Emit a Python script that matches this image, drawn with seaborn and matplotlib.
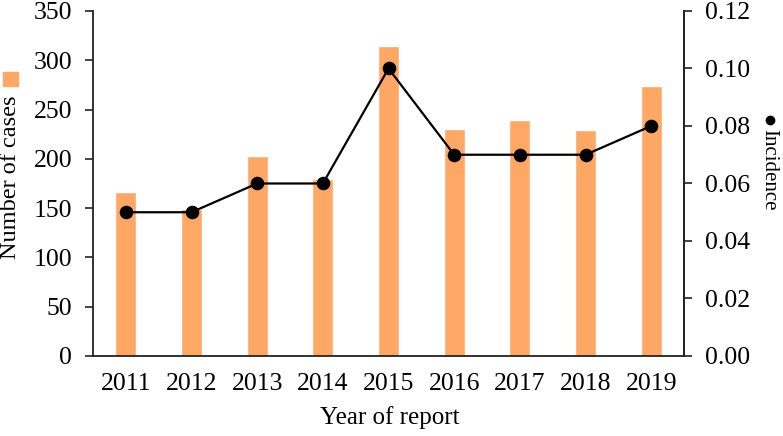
import matplotlib
matplotlib.use("Agg")
import matplotlib.pyplot as plt
import seaborn as sns
import pandas as pd
from matplotlib.patches import Rectangle
from matplotlib.lines import Line2D

years = ["2011", "2012", "2013", "2014", "2015", "2016", "2017", "2018", "2019"]
cases = [166, 149, 203, 180, 314, 230, 239, 229, 274]
incidence = [0.05, 0.05, 0.06, 0.06, 0.10, 0.07, 0.07, 0.07, 0.08]
left_ticks = [0, 50, 100, 150, 200, 250, 300, 350]
right_ticks = [0.00, 0.02, 0.04, 0.06, 0.08, 0.10, 0.12]

sns.set_style("white")
plt.rcParams['font.family'] = ['Liberation Serif', 'DejaVu Serif']
plt.rcParams['text.color'] = 'black'
plt.rcParams['xtick.color'] = 'black'
plt.rcParams['ytick.color'] = 'black'
plt.rcParams['axes.labelcolor'] = 'black'
fs = 18.5

df = pd.DataFrame({"year": years, "cases": cases, "incidence": incidence})

fig = plt.figure(figsize=(7.83, 4.36), dpi=100)
ax = fig.add_axes([0.1188, 0.1835, 0.8736 - 0.1188, 0.9748 - 0.1835])
sns.barplot(data=df, x="year", y="cases", color="#FFA764", saturation=1,
            width=0.32, ax=ax)
ax.set_xlim(-0.5, len(years) - 0.5)
ax.set_ylim(0, 350)
ax.set_yticks(left_ticks)
ax.set_yticklabels([str(v) for v in left_ticks], fontsize=fs)
ax.set_xticks([i - 0.5 for i in range(len(years) + 1)])
ax.set_xticklabels([])
ax.set_xticks(list(range(len(years))), minor=True)
ax.set_xticklabels(years, minor=True, fontsize=fs)
ax.tick_params(axis='x', which='major', direction='out', length=6, width=1.2, color='#222222')
ax.tick_params(axis='x', which='minor', length=0, pad=12)
ax.tick_params(axis='y', direction='out', length=6, width=1.2, color='#222222', pad=9)
for s in ["left", "bottom", "right"]:
    ax.spines[s].set_visible(True)
    ax.spines[s].set_color('#222222')
    ax.spines[s].set_linewidth(1.3)
ax.spines["top"].set_visible(False)
ax.set_xlabel("")
ax.set_ylabel("")

ax2 = ax.twinx()
sns.lineplot(x=list(range(len(years))), y=incidence, ax=ax2, color="black",
             linewidth=1.6, marker="o", markersize=9, markeredgecolor="black")
ax2.set_ylim(0, 0.12)
ax2.set_yticks(right_ticks)
ax2.set_yticklabels([f"{v:.2f}" for v in right_ticks], fontsize=fs)
ax2.tick_params(axis='y', direction='out', length=6, width=1.2, color='#222222', pad=9)
for s in ["left", "bottom", "top"]:
    ax2.spines[s].set_visible(False)
ax2.spines["right"].set_color('#222222')
ax2.spines["right"].set_linewidth(1.3)
ax2.grid(False)
ax.grid(False)

# x label
fig.text(390 / 783, 1 - 418 / 436, "Year of report", fontsize=18,
         ha="center", va="center")
# left legend-like axis label
fig.text(11 / 783, 1 - 177 / 436, "Number of cases", rotation=90, fontsize=17.5,
         ha="center", va="center")
fig.add_artist(Rectangle((3 / 783, 1 - 86 / 436), 15 / 783, 14 / 436,
                         transform=fig.transFigure, color="#FFA764"))
# right legend-like axis label
fig.text(769 / 783, 1 - 170 / 436, "Incidence", rotation=270, fontsize=15,
         ha="center", va="center")
fig.add_artist(Line2D([770 / 783], [1 - 120 / 436], marker="o", markersize=6,
                      color="black", transform=fig.transFigure))

fig.savefig("out.png", dpi=100)
